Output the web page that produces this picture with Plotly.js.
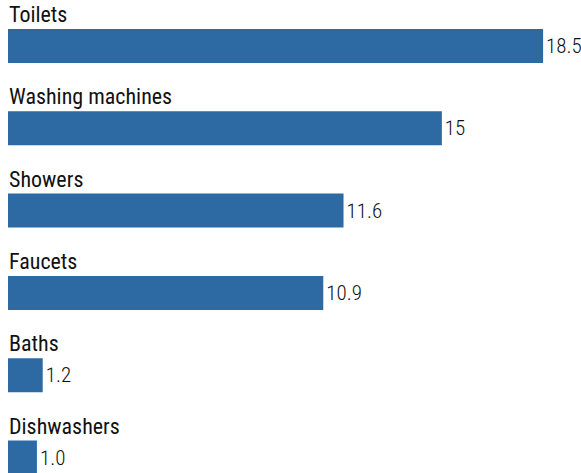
<!DOCTYPE html>
<html>
<head>
<meta charset="utf-8">
<script src="https://cdn.plot.ly/plotly-3.0.1.min.js"></script>
<style>html,body{margin:0;padding:0;background:#fff;}#chart{width:581px;height:473px;}</style>
</head>
<body>
<div id="chart"></div>
<script>
const categories = ["Toilets", "Washing machines", "Showers", "Faucets", "Baths", "Dishwashers"];
const values = [18.5, 15, 11.6, 10.9, 1.2, 1.0];
const valueLabels = ["18.5", "15", "11.6", "10.9", "1.2", "1.0"];

const FONT = "'Roboto Condensed', 'Liberation Sans', sans-serif";

const trace = {
  type: "bar",
  orientation: "h",
  x: values,
  y: categories,
  text: valueLabels,
  textposition: "outside",
  constraintext: "none",
  cliponaxis: false,
  textfont: {family: FONT, size: 21, color: "#111", weight: 300},
  marker: {color: "#2d6aa4"},
  width: 0.413,
  hoverinfo: "none"
};

const annotations = categories.map(c => ({
  x: 0, y: c, xref: "x", yref: "y",
  text: c, showarrow: false,
  xanchor: "left", yanchor: "bottom",
  yshift: 17, xshift: -1,
  font: {family: FONT, size: 22, color: "#111"}
}));

const layout = {
  width: 581, height: 473,
  margin: {l: 8, r: 0, t: 0, b: 0},
  paper_bgcolor: "#fff", plot_bgcolor: "#fff",
  showlegend: false,
  xaxis: {range: [0, 19.81], visible: false, fixedrange: true},
  yaxis: {type: "category", range: [5.188, -0.559], visible: false, fixedrange: true},
  annotations: annotations
};

Plotly.newPlot("chart", [trace], layout, {displayModeBar: false, staticPlot: true});
</script>
</body>
</html>
